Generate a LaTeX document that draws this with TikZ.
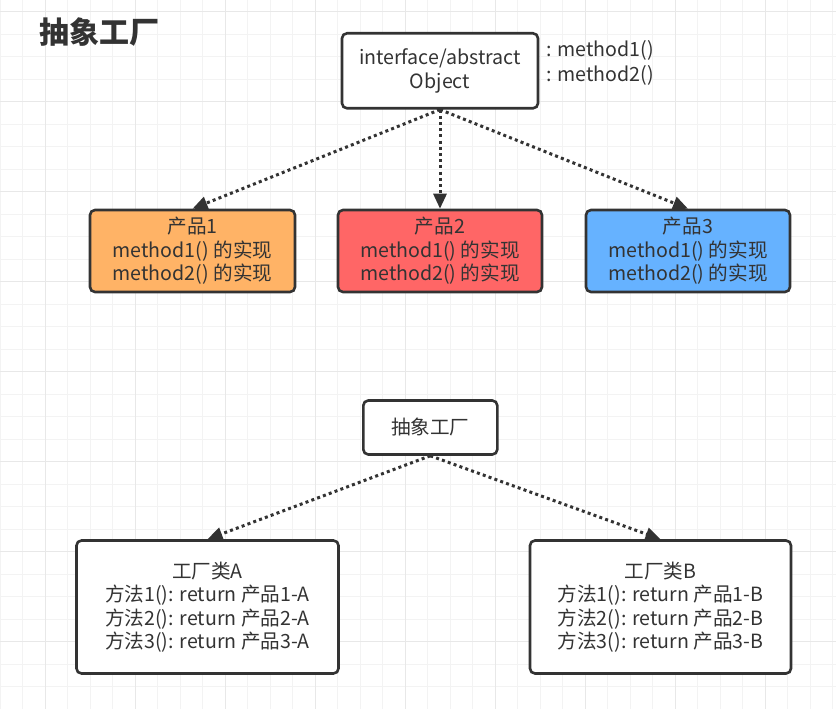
\documentclass[tikz,border=0pt]{standalone}
\usepackage{fontspec}
\setmainfont{Noto Sans CJK SC}
\usetikzlibrary{arrows.meta, positioning}
\definecolor{ink}{RGB}{51, 51, 51}
\definecolor{gridminor}{RGB}{243, 243, 243}
\definecolor{gridmajor}{RGB}{232, 232, 232}
\definecolor{orange_fill}{RGB}{255, 179, 102}
\definecolor{red_fill}{RGB}{255, 102, 102}
\definecolor{blue_fill}{RGB}{102, 178, 255}

\begin{document}
\begin{tikzpicture}[
    x=1pt, y=-1pt,
    box/.style={
        rectangle,
        draw=ink,
        fill=#1,
        line width=2.6pt,
        rounded corners=5pt,
        text=ink,
        align=center,
        inner sep=0pt,
        font=\fontsize{19.6}{23.5}\selectfont
    },
    box/.default=white,
    note/.style={
        text=ink,
        align=left,
        inner sep=0pt,
        font=\fontsize{19.6}{25}\selectfont
    },
    arrow/.style={
        -{Triangle[length=15pt, width=13pt]},
        line width=3pt,
        dash pattern=on 3pt off 3.2pt,
        draw=ink
    }
]

% Background grid
\fill[white] (0,0) rectangle (836,709);
\useasboundingbox (0,0) rectangle (836,709);
\foreach \x in {0,22.5,...,836} {
    \draw[gridminor, line width=1pt] (\x,0) -- (\x,709);
}
\foreach \y in {11.7,34.2,...,709} {
    \draw[gridminor, line width=1pt] (0,\y) -- (836,\y);
}
\foreach \x in {45,135,...,836} {
    \draw[gridmajor, line width=1pt] (\x,0) -- (\x,709);
}
\foreach \y in {11.7,101.7,...,709} {
    \draw[gridmajor, line width=1pt] (0,\y) -- (836,\y);
}

% Title
\node[text=ink, inner sep=0pt, font=\bfseries\fontsize{30}{32}\selectfont] (title) at (99,32) {抽象工厂};

% Abstract product
\node[box, minimum width=196pt, minimum height=75pt] (obj) at (440,70.8) {interface/abstract\\Object};
\node[note, anchor=west] (methods) at (546,62.5) {: method1()\\: method2()};

% Concrete products
\node[box=orange_fill, minimum width=205pt, minimum height=82pt] (prod1) at (192.5,251) {产品1\\method1() 的实现\\method2() 的实现};
\node[box=red_fill, minimum width=204pt, minimum height=82pt] (prod2) at (440,251) {产品2\\method1() 的实现\\method2() 的实现};
\node[box=blue_fill, minimum width=204pt, minimum height=82pt] (prod3) at (688,251) {产品3\\method1() 的实现\\method2() 的实现};

% Abstract factory
\node[box, minimum width=134pt, minimum height=54pt] (factory) at (430.3,427.5) {抽象工厂};

% Concrete factories
\node[box, minimum width=262pt, minimum height=133pt] (facA) at (207.5,607) {工厂类A\\方法1(): return 产品1-A\\方法2(): return 产品2-A\\方法3(): return 产品3-A};
\node[box, minimum width=261pt, minimum height=133pt] (facB) at (660.5,607) {工厂类B\\方法1(): return 产品1-B\\方法2(): return 产品2-B\\方法3(): return 产品3-B};

% Draw the arrows
\draw[arrow] (obj.south) -- (prod1.north);
\draw[arrow] (obj.south) -- (prod2.north);
\draw[arrow] (obj.south) -- (prod3.north);
\draw[arrow] (factory.south) -- (facA.north);
\draw[arrow] (factory.south) -- (facB.north);

\end{tikzpicture}
\end{document}
